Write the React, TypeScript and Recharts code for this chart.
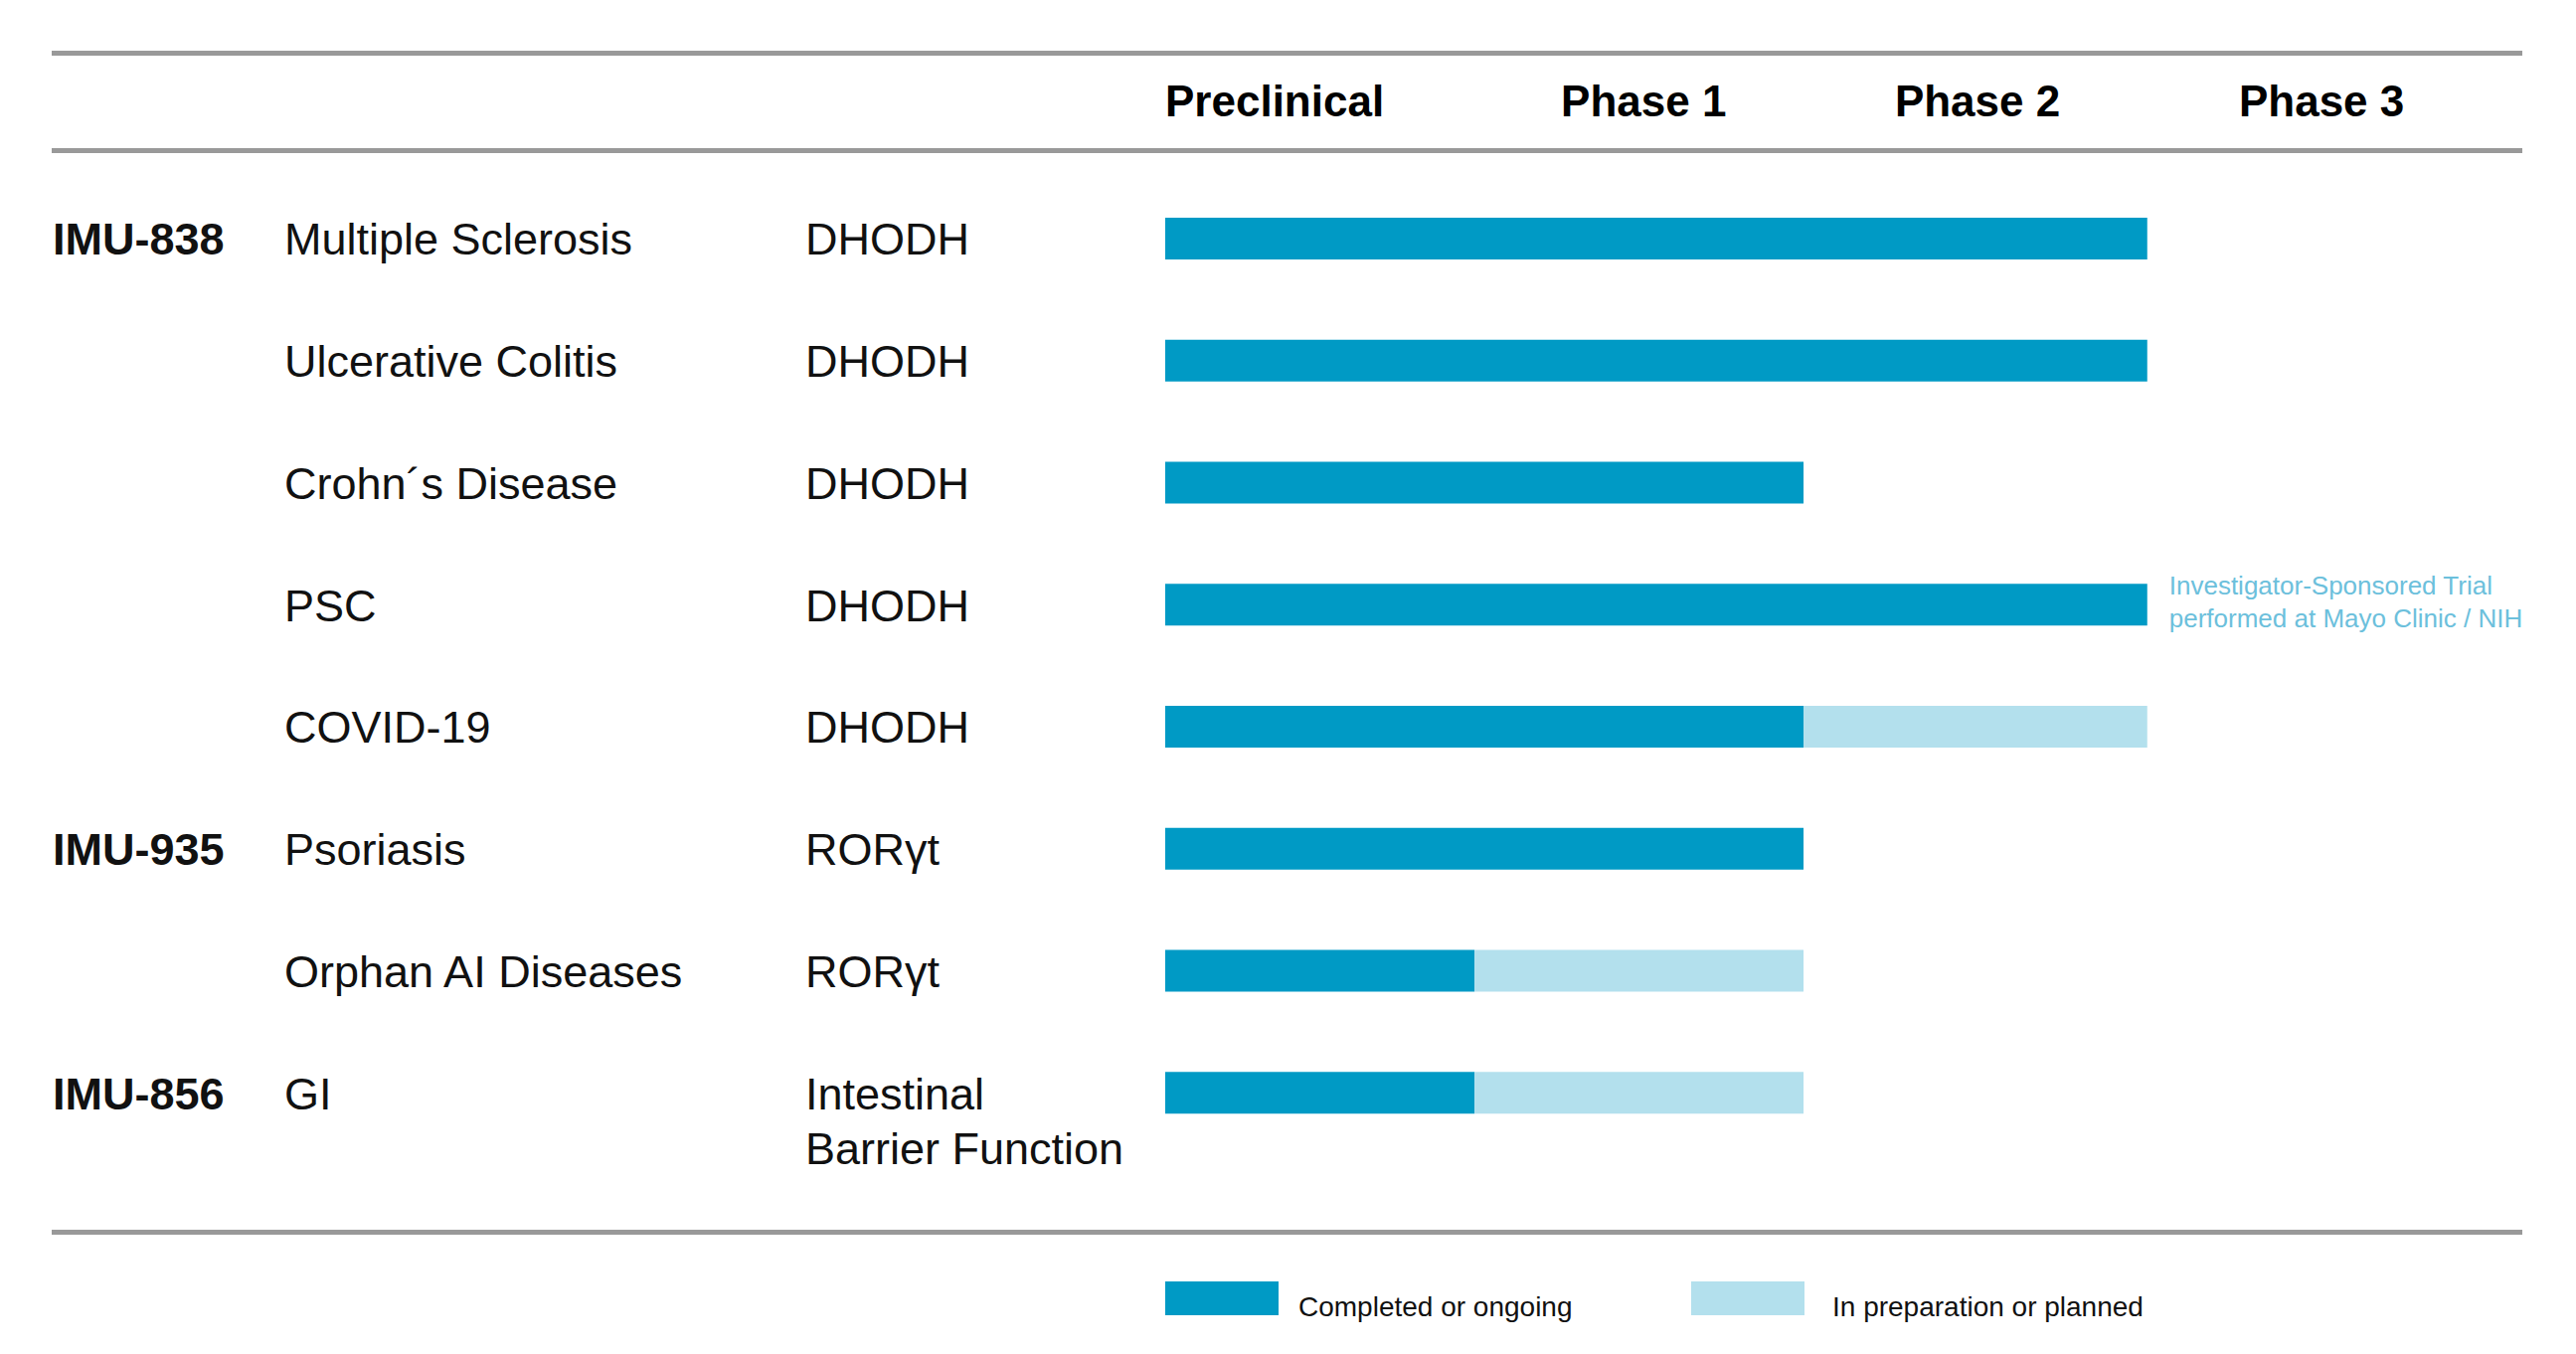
import React from "react";
import { BarChart, Bar, XAxis, YAxis, Legend, LabelList } from "recharts";

// pipeline rows, top to bottom
const compounds = ["IMU-838", "", "", "", "", "IMU-935", "", "IMU-856"];
const indications = [
  "Multiple Sclerosis",
  "Ulcerative Colitis",
  "Crohn´s Disease",
  "PSC",
  "COVID-19",
  "Psoriasis",
  "Orphan AI Diseases",
  "GI",
];
const targets = [
  ["DHODH"],
  ["DHODH"],
  ["DHODH"],
  ["DHODH"],
  ["DHODH"],
  ["RORγt"],
  ["RORγt"],
  ["Intestinal", "Barrier Function"],
];

// how far each program reaches on the phase scale (0 = start of preclinical)
const completedReach = [3.0, 3.0, 1.95, 3.0, 1.95, 1.95, 0.945, 0.945];
const plannedReach = [3.0, 3.0, 1.95, 3.0, 3.0, 1.95, 1.95, 1.95];

const phases = ["Preclinical", "Phase 1", "Phase 2", "Phase 3"];
const phaseLabelAt = [0, 1.209, 2.229, 3.28];

const annotationRow = "PSC";
const annotationLines = [
  "Investigator-Sponsored Trial",
  "performed at Mayo Clinic / NIH",
];

const DARK = "#009ac5";
const LIGHT = "#b3e0ed";
const NOTE = "#6cc0dc";
const RULE = "#999999";
const FONT = "'Liberation Sans', Arial, Helvetica, sans-serif";

const W = 2591;
const H = 1362;
const COL_COMPOUND = 53;
const COL_INDICATION = 286;
const COL_TARGET = 810;
const HEADER_BASELINE = 117;

const data = indications.map((name, i) => ({
  name,
  completed: completedReach[i],
  planned: +(plannedReach[i] - completedReach[i]).toFixed(3),
}));

function RowTick(props: any) {
  const { y, index } = props;
  const base = y + 16;
  return (
    <g fontFamily={FONT} fontSize={45} fill="#111">
      {compounds[index] && (
        <text x={COL_COMPOUND} y={base} fontWeight="bold">
          {compounds[index]}
        </text>
      )}
      <text x={COL_INDICATION} y={base}>
        {indications[index]}
      </text>
      {targets[index].map((t, k) => (
        <text key={k} x={COL_TARGET} y={base + k * 55}>
          {t}
        </text>
      ))}
    </g>
  );
}

function PhaseTick(props: any) {
  const { x, index } = props;
  return (
    <text
      x={x}
      y={HEADER_BASELINE}
      fontFamily={FONT}
      fontSize={44}
      fontWeight="bold"
      fill="#000"
    >
      {phases[index]}
    </text>
  );
}

function Note(props: any) {
  const { x, y, width, height, index } = props;
  if (indications[index] !== annotationRow) return null;
  const cx = x + width + 22;
  const cy = y + height / 2;
  return (
    <g fontFamily={FONT} fontSize={26} fill={NOTE}>
      <text x={cx} y={cy - 10}>
        {annotationLines[0]}
      </text>
      <text x={cx} y={cy + 23}>
        {annotationLines[1]}
      </text>
    </g>
  );
}

const legendOffsets = [0, 529];
const legendGaps = [20, 28];

function LegendBox(props: any) {
  const items = props.payload || [];
  return (
    <svg width={1100} height={48} style={{ display: "block" }}>
      {items.map((it: any, i: number) => (
        <g key={it.value}>
          <rect x={legendOffsets[i]} y={0} width={114} height={34} fill={it.color} />
          <text
            x={legendOffsets[i] + 114 + legendGaps[i]}
            y={35}
            fontFamily={FONT}
            fontSize={28}
            fill="#111"
          >
            {it.value}
          </text>
        </g>
      ))}
    </svg>
  );
}

function Rule({ top }: { top: number }) {
  return (
    <div
      style={{
        position: "absolute",
        left: 52,
        top: top - 2.5,
        width: 2485,
        height: 5,
        background: RULE,
      }}
    />
  );
}

export default function App() {
  return (
    <div style={{ position: "relative", width: W, height: H, background: "#fff" }}>
      <style>{"body{margin:0}"}</style>
      <Rule top={53} />
      <Rule top={151.5} />
      <Rule top={1239} />
      <BarChart
        width={W}
        height={H}
        data={data}
        layout="vertical"
        margin={{ top: 0, right: 102, bottom: 201, left: 0 }}
        barSize={42}
      >
        <XAxis
          type="number"
          orientation="top"
          domain={[0, 4]}
          ticks={phaseLabelAt}
          height={179}
          axisLine={false}
          tickLine={false}
          tick={PhaseTick}
          interval={0}
        />
        <YAxis
          type="category"
          dataKey="name"
          width={1172}
          axisLine={false}
          tickLine={false}
          tick={RowTick}
          interval={0}
        />
        <Legend
          layout="horizontal"
          verticalAlign="middle"
          align="center"
          content={LegendBox}
          wrapperStyle={{ position: "absolute", left: 1172, top: 1289, width: 1100 }}
        />
        <Bar
          dataKey="completed"
          name="Completed or ongoing"
          stackId="p"
          fill={DARK}
          isAnimationActive={false}
        >
          <LabelList dataKey="completed" content={Note} />
        </Bar>
        <Bar
          dataKey="planned"
          name="In preparation or planned"
          stackId="p"
          fill={LIGHT}
          isAnimationActive={false}
        />
      </BarChart>
    </div>
  );
}
